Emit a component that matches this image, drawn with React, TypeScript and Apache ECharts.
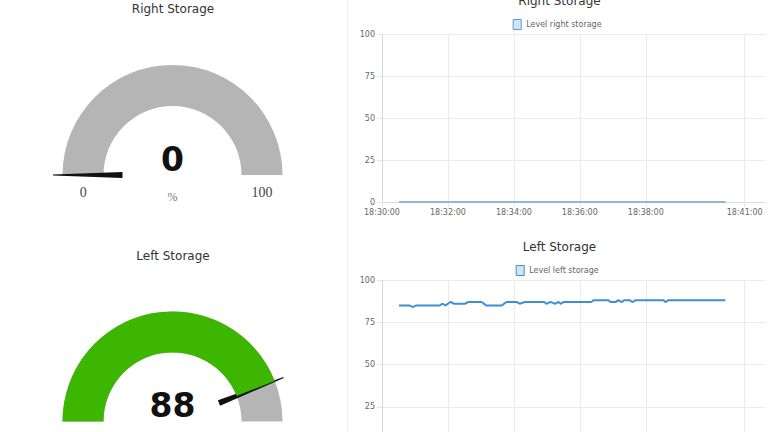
import { useEffect, useRef } from 'react';
import * as echarts from 'echarts';

// ---- Gauges ----
const gaugeTitles = ['Right Storage', 'Left Storage'];
const gaugeValues = [0, 88];
const gaugeUnit = '%';
const gaugeMin = 0;
const gaugeMax = 100;

// ---- Line charts ----
const chartTitles = ['Right Storage', 'Left Storage'];
const legendNames = ['Level right storage', 'Level left storage'];
const xTickLabels = ['18:30:00', '18:32:00', '18:34:00', '18:36:00', '18:38:00', '18:41:00'];
const axisStart = '18:30:00';
const axisEnd = '18:41:37';
const yMin = 0;
const yMax = 100;
const yStep = 25;

const rightTimes = ['18:30:31', '18:35:00', '18:40:25'];
const rightValues = [0, 0, 0];

const leftTimes = [
  '18:30:31', '18:30:50', '18:30:56', '18:31:02', '18:31:45', '18:31:50', '18:31:55', '18:32:05',
  '18:32:11', '18:32:31', '18:32:37', '18:33:01', '18:33:10', '18:33:38', '18:33:42', '18:33:47',
  '18:34:05', '18:34:11', '18:34:20', '18:34:55', '18:34:59', '18:35:07', '18:35:15', '18:35:21',
  '18:35:25', '18:35:31', '18:36:21', '18:36:25', '18:36:52', '18:36:56', '18:37:05', '18:37:10',
  '18:37:16', '18:37:21', '18:37:31', '18:37:36', '18:37:41', '18:38:32', '18:38:36', '18:38:41',
  '18:40:25',
];
const leftValues = [
  85, 85, 84, 85, 85, 86, 85, 87,
  86, 86, 87, 87, 85, 85, 86, 87,
  87, 86, 87, 87, 86, 87, 86, 87,
  86, 87, 87, 88, 88, 87, 87, 88,
  87, 88, 88, 87, 88, 88, 87, 88,
  88,
];

const toSec = (t: string) => {
  const [h, m, s] = t.split(':').map(Number);
  return h * 3600 + m * 60 + s;
};
const base = toSec(axisStart);
const rel = (t: string) => toSec(t) - base;
const pad = (n: number) => String(n).padStart(2, '0');
const fmtTime = (v: number) => {
  const t = base + Math.round(v);
  return `${pad(Math.floor(t / 3600))}:${pad(Math.floor((t % 3600) / 60))}:${pad(t % 60)}`;
};

const NEEDLE = 'path://M0 0M6 0M0 -50L6 -50L3.5 -119.5L2.5 -119.5Z';

const GREEN = '#3cb600';
const GREY = '#b5b5b5';
const LINE_BLUE = '#3f8ecf';

function makeGauge(i: number, cy: number) {
  return {
    type: 'gauge',
    center: [172.5, cy],
    radius: 110,
    startAngle: 180,
    endAngle: 0,
    min: gaugeMin,
    max: gaugeMax,
    splitNumber: 1,
    axisLine: { lineStyle: { width: 41, color: [[1, GREY]] } },
    progress: { show: true, width: 41, itemStyle: { color: GREEN } },
    pointer: { icon: NEEDLE, length: 119.5, width: 6, itemStyle: { color: '#111' } },
    anchor: { show: false },
    axisTick: { show: false },
    splitLine: { show: false, length: 0, distance: 0 },
    axisLabel: {
      show: true,
      distance: 10,
      padding: [0, 0, 0, 7.3],
      lineHeight: 34.6,
      formatter: (v: number) => '\n' + v,
      fontSize: 14,
      fontFamily: 'Liberation Serif',
      color: '#444',
    },
    title: {
      offsetCenter: [0, 22],
      fontSize: 12,
      fontFamily: 'Liberation Serif',
      color: '#777',
    },
    detail: {
      offsetCenter: [0, -15.5],
      fontSize: 33,
      fontWeight: 'bold',
      fontFamily: 'DejaVu Sans',
      color: '#111',
      formatter: '{value}',
    },
    data: [{ value: gaugeValues[i], name: gaugeUnit }],
  };
}

function makeXAxis(gridIndex: number) {
  const ticks = xTickLabels.map(rel);
  return {
    type: 'value',
    gridIndex,
    min: 0,
    max: rel(axisEnd),
    axisLine: { show: true, lineStyle: { color: '#dcdcdc' } },
    axisTick: { show: true, length: 5, customValues: ticks, lineStyle: { color: '#e6e6e6' } },
    axisLabel: {
      customValues: ticks,
      formatter: (v: number) => fmtTime(v),
      fontSize: 8,
      color: '#666',
      margin: 6,
      showMinLabel: true,
      showMaxLabel: true,
    },
    splitLine: { show: true, lineStyle: { color: '#ebebeb' } },
  };
}

function makeYAxis(gridIndex: number) {
  return {
    type: 'value',
    gridIndex,
    min: yMin,
    max: yMax,
    interval: yStep,
    axisLine: { show: true, lineStyle: { color: '#d6d6d6' } },
    axisTick: { show: true, length: 5, lineStyle: { color: '#e6e6e6' } },
    axisLabel: { fontSize: 8, color: '#666', margin: 7 },
    splitLine: { show: true, lineStyle: { color: '#ebebeb' } },
  };
}

const titleStyle = { fontSize: 12, fontWeight: 'normal', color: '#333', fontFamily: 'DejaVu Sans' };
const legendText = { fontSize: 8, color: '#666', fontFamily: 'DejaVu Sans' };

export default function App() {
  const ref = useRef<HTMLDivElement>(null);
  useEffect(() => {
    if (!ref.current) return;
    const chart = echarts.init(ref.current, null, { renderer: 'svg' });
    const option = {
      animation: false,
      backgroundColor: '#ffffff',
      textStyle: { fontFamily: 'DejaVu Sans' },
      graphic: [
        {
          type: 'line',
          shape: { x1: 347.5, y1: 0, x2: 347.5, y2: 432 },
          style: { stroke: '#f1f1f1', lineWidth: 1 },
          silent: true,
        },
      ],
      title: [
        { text: gaugeTitles[0], left: 173, top: 9.3, textAlign: 'center', textVerticalAlign: 'middle', padding: 0, textStyle: titleStyle },
        { text: gaugeTitles[1], left: 173, top: 255.7, textAlign: 'center', textVerticalAlign: 'middle', padding: 0, textStyle: titleStyle },
        { text: chartTitles[0], left: 559.5, top: 0.7, textAlign: 'center', textVerticalAlign: 'middle', padding: 0, textStyle: titleStyle },
        { text: chartTitles[1], left: 559.5, top: 246.7, textAlign: 'center', textVerticalAlign: 'middle', padding: 0, textStyle: titleStyle },
      ],
      legend: [
        {
          data: [legendNames[0]],
          left: 512.7,
          top: 19,
          padding: 0,
          icon: 'rect',
          itemWidth: 8,
          itemHeight: 10,
          selectedMode: false,
          itemStyle: { color: '#d3e3f1', borderColor: '#5b9bd0', borderWidth: 1 },
          textStyle: legendText,
        },
        {
          data: [legendNames[1]],
          left: 515.7,
          top: 265,
          padding: 0,
          icon: 'rect',
          itemWidth: 8,
          itemHeight: 10,
          selectedMode: false,
          itemStyle: { color: '#d3e3f1', borderColor: LINE_BLUE, borderWidth: 1 },
          textStyle: legendText,
        },
      ],
      grid: [
        { left: 382, right: 3, top: 34, height: 168, outerBoundsMode: 'none', containLabel: false },
        { left: 382, right: 3, top: 280, height: 169.3, outerBoundsMode: 'none', containLabel: false },
      ],
      xAxis: [makeXAxis(0), makeXAxis(1)],
      yAxis: [makeYAxis(0), makeYAxis(1)],
      series: [
        makeGauge(0, 175),
        makeGauge(1, 421.4),
        {
          type: 'line',
          name: legendNames[0],
          xAxisIndex: 0,
          yAxisIndex: 0,
          symbol: 'none',
          lineStyle: { width: 2, color: '#93b6d3' },
          itemStyle: { color: '#93b6d3' },
          data: rightTimes.map((t, i) => [rel(t), rightValues[i]]),
        },
        {
          type: 'line',
          name: legendNames[1],
          xAxisIndex: 1,
          yAxisIndex: 1,
          symbol: 'none',
          smooth: 0.2,
          lineStyle: { width: 2, color: LINE_BLUE },
          itemStyle: { color: LINE_BLUE },
          data: leftTimes.map((t, i) => [rel(t), leftValues[i]]),
        },
      ],
    };
    chart.setOption(option as any);
    return () => chart.dispose();
  }, []);
  return (
    <div
      ref={ref}
      style={{ position: 'absolute', left: 0, top: 0, width: 768, height: 432, background: '#fff' }}
    />
  );
}
